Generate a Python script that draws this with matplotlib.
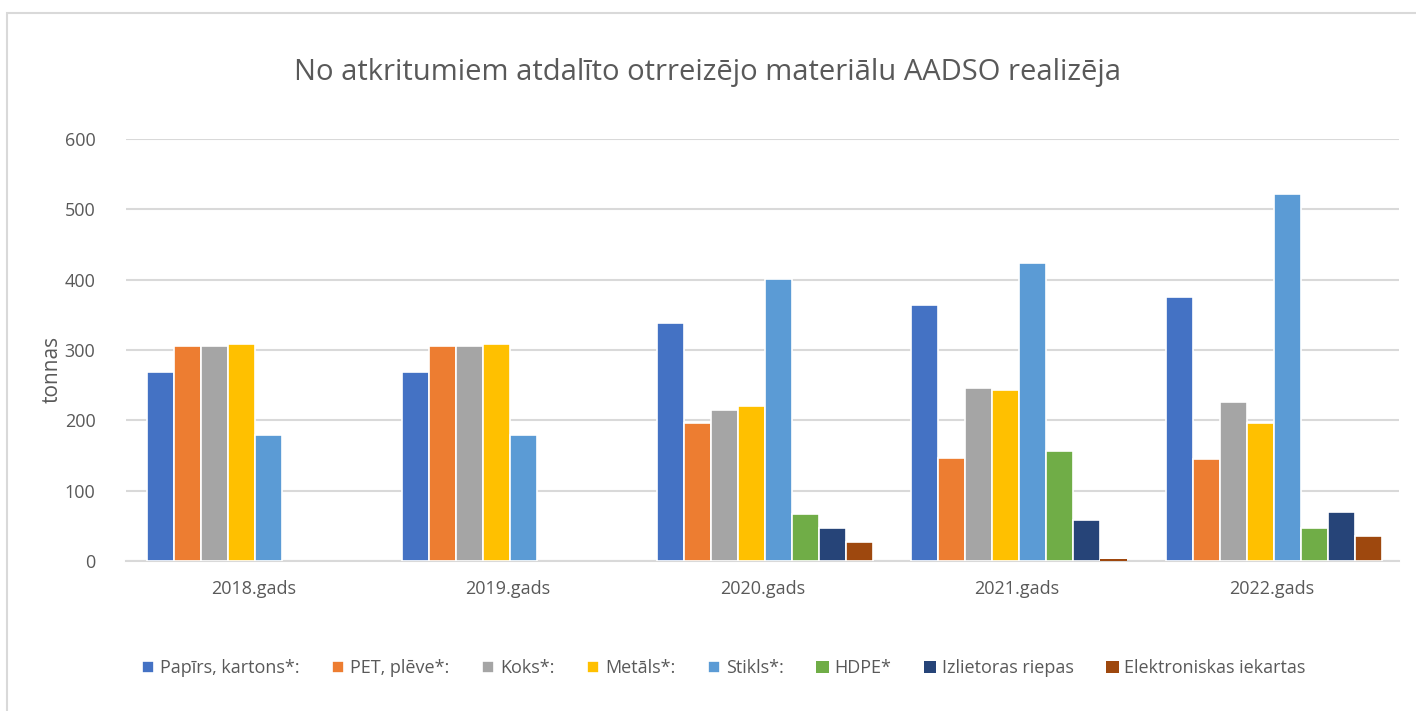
import matplotlib
matplotlib.use('Agg')
import matplotlib.pyplot as plt
from matplotlib import font_manager
from matplotlib.patches import Rectangle
import numpy as np

# data (tonnas)
years = ['2018.gads', '2019.gads', '2020.gads', '2021.gads', '2022.gads']
series_names = ['Papīrs, kartons*:', 'PET, plēve*:', 'Koks*:', 'Metāls*:', 'Stikls*:',
                'HDPE*', 'Izlietoras riepas', 'Elektroniskas iekartas']
papirs = [269, 269, 338, 364, 375]
pet = [306, 306, 196, 147, 145]
koks = [306, 306, 214, 246, 226]
metals = [309, 309, 220, 243, 196]
stikls = [179, 179, 401, 424, 522]
hdpe = [0, 0, 67, 156, 47]
riepas = [0, 0, 47, 58, 70]
elektronika = [0, 0, 27, 3, 35]

colors = ['#4472C4', '#ED7D31', '#A5A5A5', '#FFC000', '#5B9BD5', '#70AD47', '#264478', '#9E480E']

# pick a narrow-ish font if there is one
names = set(f.name for f in font_manager.fontManager.ttflist)
fam = 'Liberation Sans Narrow' if 'Liberation Sans Narrow' in names else 'Open Sans'
plt.rcParams['font.family'] = [fam, 'DejaVu Sans']
txt = '#595959'

fig = plt.figure(figsize=(14.16, 7.11), dpi=100)
ax = fig.add_axes([0.089, 0.211, 0.899, 0.5935])

# chart border
fig.patches.append(Rectangle((0.005, -0.05), 1.1, 1.032, transform=fig.transFigure,
                             fill=False, edgecolor='#d9d9d9', linewidth=1.5))

all_series = [papirs, pet, koks, metals, stikls, hdpe, riepas, elektronika]
x = np.arange(len(years))
step = 0.106
for i, vals in enumerate(all_series):
    lw = [1.2 if v > 10 else 0 for v in vals]  # no white edge on empty / tiny bars
    ax.bar(x + (i - 3.5) * step + 0.008, vals, width=step * 0.9 if False else step, color=colors[i],
           edgecolor='white', linewidth=lw, label=series_names[i], zorder=3)

ax.set_xlim(-0.5, len(years) - 0.5)
ax.set_ylim(0, 600)
ax.set_yticks(range(0, 601, 100))
ax.set_xticks(x)
ax.set_xticklabels(years)
ax.tick_params(axis='both', length=0, labelsize=13, colors=txt)
ax.tick_params(axis='y', pad=22)
ax.tick_params(axis='x', pad=14)
ax.grid(axis='y', color='#d9d9d9', linewidth=1.5, zorder=0)
for s in ['top', 'right', 'left']:
    ax.spines[s].set_visible(False)
ax.spines['bottom'].set_color('#d9d9d9')
ax.spines['bottom'].set_linewidth(1.5)

fig.text(0.037, 0.48, 'tonnas', rotation=90, ha='center', va='center',
         fontsize=15, color=txt)
fig.text(0.5, 0.898, 'No atkritumiem atdalīto otrreizējo materiālu AADSO realizēja',
         ha='center', va='center', fontsize=21, color=txt)

leg = fig.legend(loc='center', bbox_to_anchor=(0.511, 0.06), ncol=8, frameon=False,
                 fontsize=13, labelcolor=txt, handlelength=0.7, handleheight=0.7,
                 handletextpad=0.3, columnspacing=1.8)

fig.savefig('out.png', dpi=100)
